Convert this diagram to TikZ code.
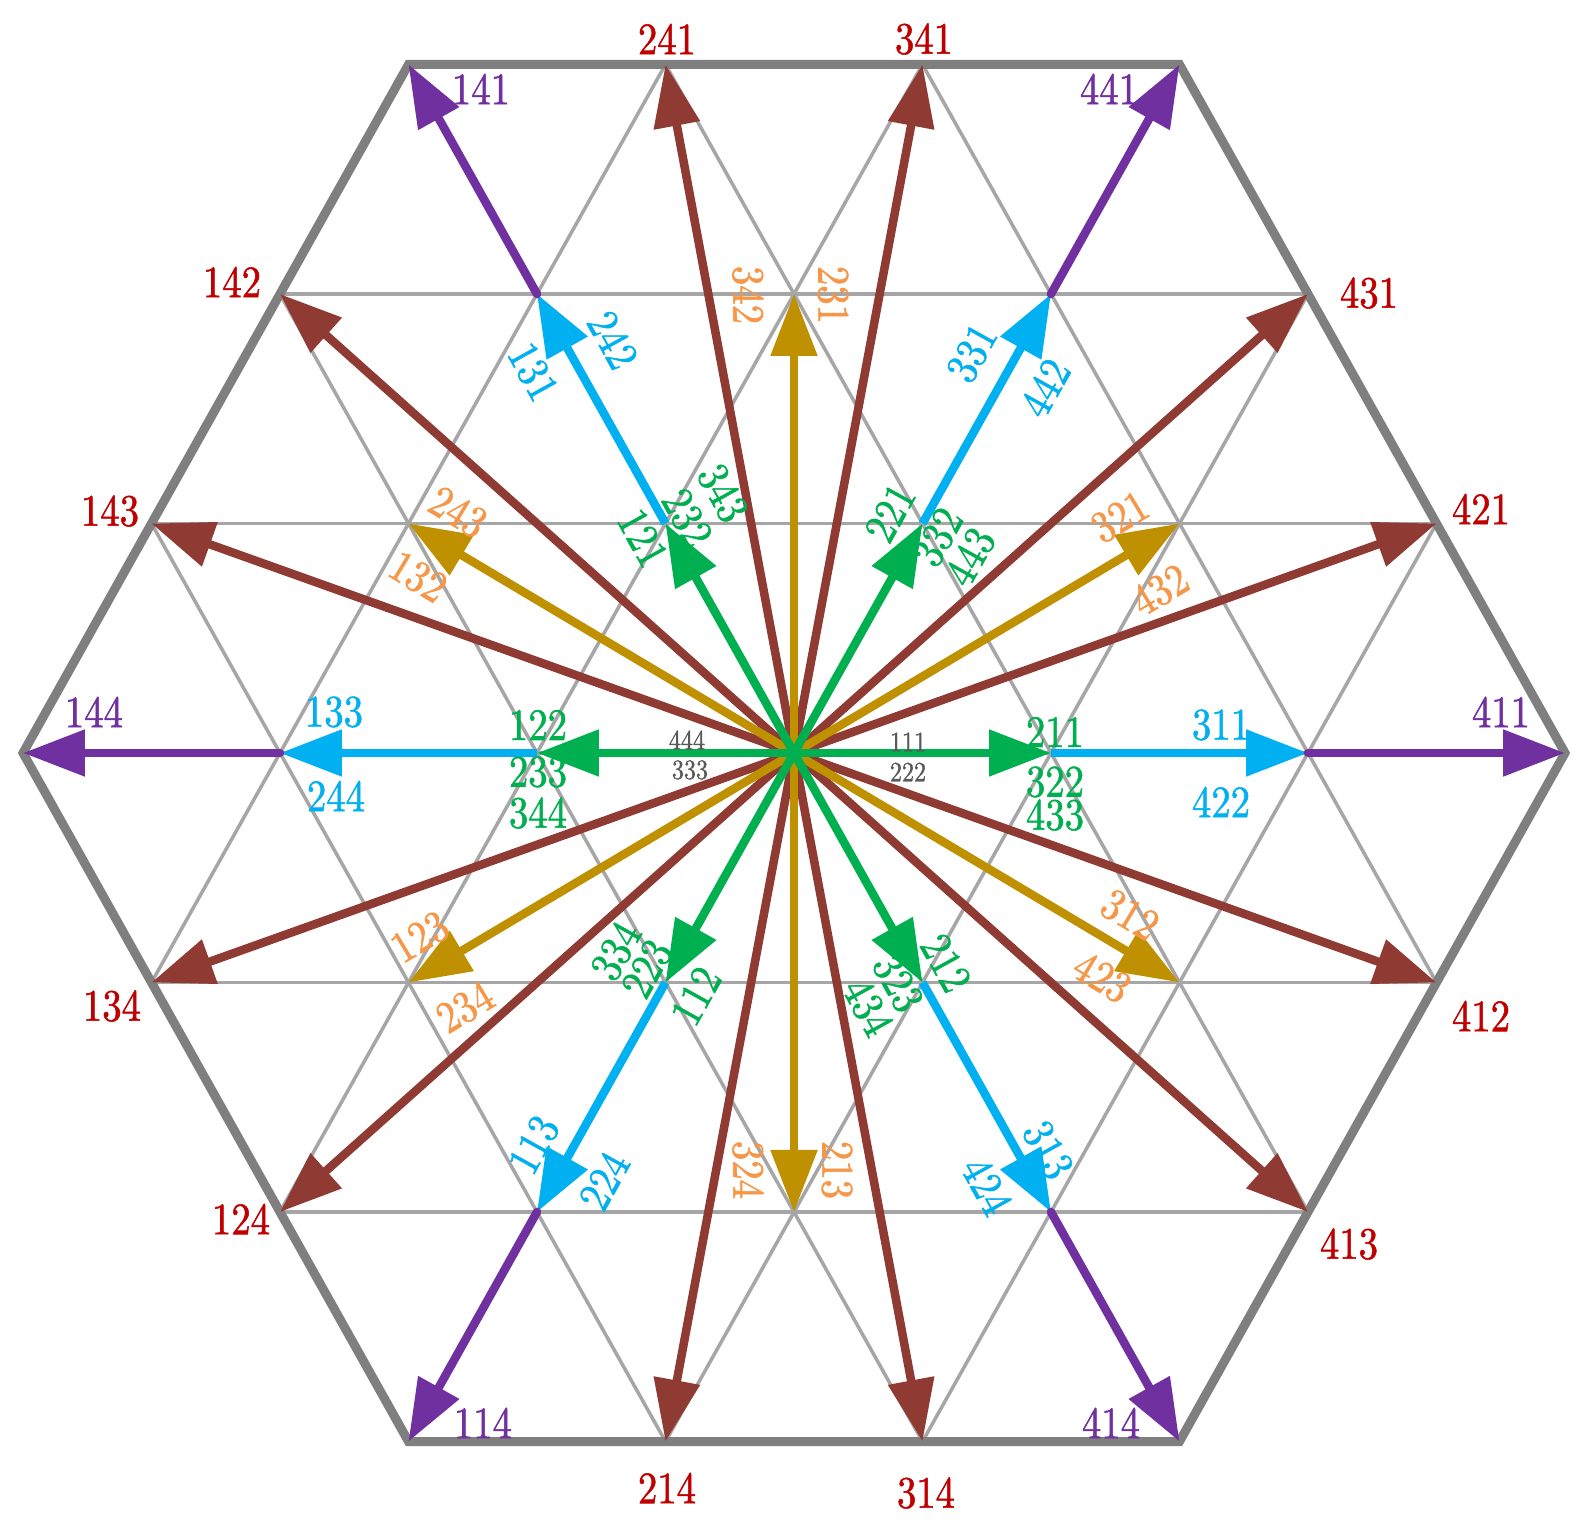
\documentclass[tikz,border=0pt]{standalone}
\usepackage{fontspec}
\setmainfont{lmroman10-regular.otf}[FakeStretch=0.86,FakeBold=1.2]
\usetikzlibrary{arrows.meta}
\definecolor{cGreen}{HTML}{00B050}
\definecolor{cCyan}{HTML}{00B0F0}
\definecolor{cPurple}{HTML}{7030A0}
\definecolor{cGold}{HTML}{BF9000}
\definecolor{cBrown}{HTML}{8F3A33}
\definecolor{cRed}{HTML}{C00000}
\definecolor{cOrange}{HTML}{F79646}
\definecolor{cDark}{HTML}{595959}
\definecolor{cGrid}{HTML}{A6A6A6}
\definecolor{cBorder}{HTML}{7F7F7F}
\def\A{257}
\def\H{229.5}
\tikzset{
  gridline/.style={draw=cGrid, line width=3.5pt},
  border/.style={draw=cBorder, line width=9pt, line join=miter},
  arr/.style={line width=8.5pt, -{Triangle[length=62pt,width=45pt]}},
  lbl/.style={inner sep=0pt, font=\fontsize{45}{50}\selectfont},
  small/.style={inner sep=0pt, font=\fontsize{28}{32}\selectfont, text=cDark},
}
\begin{document}
\begin{tikzpicture}[x=1pt,y=1pt]
\useasboundingbox[fill=white] (-794,-777) rectangle (802,753);
\foreach \u in {-6,...,6}{\foreach \j in {-3,...,3}{\coordinate (P\u_\j) at ({\u*\A/2},{\j*\H});}}
\coordinate (O) at (0,0);
% grid
\begin{scope}
\clip (P-6_0) -- (P-3_3) -- (P3_3) -- (P6_0) -- (P3_-3) -- (P-3_-3) -- cycle;
\foreach \j in {-2,...,2}{\draw[gridline] ({-3*\A},{\j*\H}) -- ({3*\A},{\j*\H});}
\foreach \i in {-4,...,4}{
  \draw[gridline] ({(2*\i-3)*\A/2},{-3*\H}) -- ({(2*\i+3)*\A/2},{3*\H});
  \draw[gridline] ({(2*\i+3)*\A/2},{-3*\H}) -- ({(2*\i-3)*\A/2},{3*\H});
}
\end{scope}
\draw[border] (P-6_0) -- (P-3_3) -- (P3_3) -- (P6_0) -- (P3_-3) -- (P-3_-3) -- cycle;
% brown
\foreach \t in {P1_3,P-1_3,P1_-3,P-1_-3,P4_2,P-4_2,P4_-2,P-4_-2,P5_1,P-5_1,P5_-1,P-5_-1}
  {\draw[arr, cBrown] (O) -- (\t);}
% gold
\foreach \t in {P0_2,P0_-2,P3_1,P-3_1,P3_-1,P-3_-1}
  {\draw[arr, cGold] (O) -- (\t);}
% green
\foreach \t in {P2_0,P-2_0,P1_1,P-1_1,P1_-1,P-1_-1}
  {\draw[arr, cGreen] (O) -- (\t);}
% cyan
\foreach \s/\t in {P2_0/P4_0,P-2_0/P-4_0,P1_1/P2_2,P-1_1/P-2_2,P1_-1/P2_-2,P-1_-1/P-2_-2}
  {\draw[arr, cCyan] (\s) -- (\t);}
% purple
\foreach \s/\t in {P4_0/P6_0,P-4_0/P-6_0,P2_2/P3_3,P-2_2/P-3_3,P2_-2/P3_-3,P-2_-2/P-3_-3}
  {\draw[arr, cPurple, line cap=round] (\s) -- (\t);}
% red labels
\begin{scope}[every node/.style={lbl, text=cRed}]
\node (r241) at (-127,714) {241};
\node (r341) at (130,714) {341};
\node (r431) at (575,460) {431};
\node (r421) at (687,244) {421};
\node (r412) at (687,-263) {412};
\node (r413) at (555,-491) {413};
\node (r314) at (132,-740) {314};
\node (r214) at (-127,-735) {214};
\node (r124) at (-553,-466) {124};
\node (r134) at (-682,-253) {134};
\node (r143) at (-684,242) {143};
\node (r142) at (-562,471) {142};
\end{scope}
% purple labels
\begin{scope}[every node/.style={lbl, text=cPurple}]
\node (v141) at (-313,664) {141};
\node (v441) at (315,664) {441};
\node (v411) at (707,41) {411};
\node (v144) at (-700,41) {144};
\node (v114) at (-311,-670) {114};
\node (v414) at (317,-670) {414};
\end{scope}
% cyan labels
\begin{scope}[every node/.style={lbl, text=cCyan}]
\node (c133) at (-460,41) {133};
\node (c244) at (-458,-43) {244};
\node (c311) at (427,28) {311};
\node (c422) at (427,-49) {422};
\node[rotate=-61] (c131) at (-261,381) {131};
\node[rotate=-61] (c242) at (-181,413) {242};
\node[rotate=61] (c331) at (178,400) {331};
\node[rotate=61] (c442) at (251,365) {442};
\node[rotate=61] (c113) at (-260,-392) {113};
\node[rotate=61] (c224) at (-190,-428) {224};
\node[rotate=-61] (c313) at (254,-397) {313};
\node[rotate=-61] (c424) at (193,-433) {424};
\end{scope}
% green labels
\begin{scope}[every node/.style={lbl, text=cGreen}]
\node (g122) at (-256,28) {122};
\node (g233) at (-256,-19) {233};
\node (g344) at (-256,-60) {344};
\node (g211) at (261,21) {211};
\node (g322) at (261,-29) {322};
\node (g433) at (261,-62) {433};
\node[rotate=-61] (g121) at (-151,215) {121};
\node[rotate=-61] (g232) at (-107,235) {232};
\node[rotate=-61] (g343) at (-71,260) {343};
\node[rotate=61] (g221) at (96,240) {221};
\node[rotate=61] (g332) at (144,216) {332};
\node[rotate=61] (g443) at (176,196) {443};
\node[rotate=61] (g334) at (-178,-198) {334};
\node[rotate=61] (g223) at (-147,-216) {223};
\node[rotate=61] (g112) at (-98,-243) {112};
\node[rotate=-61] (g212) at (152,-210) {212};
\node[rotate=-61] (g323) at (104,-230) {323};
\node[rotate=-61] (g434) at (74,-254) {434};
\end{scope}
% dark small labels
\node[small] (d444) at (-107,13) {444};
\node[small] (d333) at (-104,-17) {333};
\node[small] (d111) at (114,11) {111};
\node[small] (d222) at (114,-19) {222};
% orange labels
\begin{scope}[every node/.style={lbl, text=cOrange}]
\node[rotate=-31] (o243) at (-336,241) {243};
\node[rotate=-31] (o132) at (-376,176) {132};
\node[rotate=31] (o321) at (326,236) {321};
\node[rotate=31] (o432) at (366,163) {432};
\node[rotate=31] (o123) at (-374,-184) {123};
\node[rotate=31] (o234) at (-329,-254) {234};
\node[rotate=-31] (o312) at (336,-162) {312};
\node[rotate=-31] (o423) at (308,-224) {423};
\node[rotate=-90] (o342) at (-46,458) {342};
\node[rotate=-90] (o231) at (39,458) {231};
\node[rotate=-90] (o324) at (-46,-417) {324};
\node[rotate=-90] (o213) at (43,-417) {213};
\end{scope}
\end{tikzpicture}
\end{document}
